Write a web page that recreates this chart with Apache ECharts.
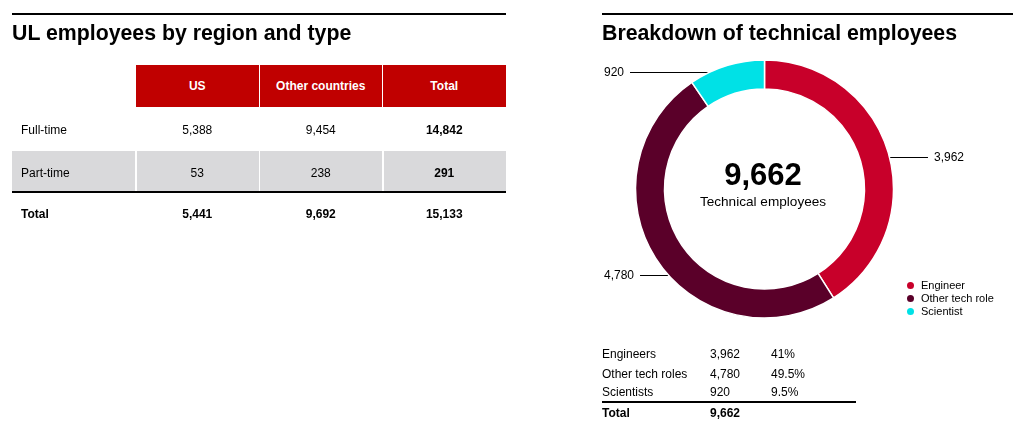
<!DOCTYPE html>
<html>
<head>
<meta charset="utf-8">
<script src="https://cdn.jsdelivr.net/npm/echarts@6/dist/echarts.min.js"></script>
<style>
  html, body { margin:0; padding:0; background:#fff; }
  body { width:1021px; height:424px; position:relative; overflow:hidden;
         font-family:'Liberation Sans', Arial, Helvetica, sans-serif; color:#000; }
  #chart { position:absolute; left:0; top:0; width:1021px; height:424px; }
  .abs { position:absolute; white-space:nowrap; }
  .rule { position:absolute; background:#000; }
  .title { position:absolute; font-size:21.3px; font-weight:bold; line-height:21px; white-space:nowrap; }
  .cell { position:absolute; font-size:12px; text-align:center; white-space:nowrap; }
  .lbl { position:absolute; font-size:12px; text-align:left; white-space:nowrap; }
  .b { font-weight:bold; }
</style>
</head>
<body>
<div id="chart"></div>
<div id="overlay"></div>
<script>
// ---------- data: left table ----------
const regionColumns = ['US', 'Other countries', 'Total'];
const typeRows = ['Full-time', 'Part-time'];
const usValues = [5388, 53];
const otherCountryValues = [9454, 238];
const rowTotals = [14842, 291];
const totalRowLabel = 'Total';
const columnTotals = [5441, 9692, 15133];

// ---------- data: technical employees ----------
const techCategories = ['Engineer', 'Other tech role', 'Scientist'];
const techValues = [3962, 4780, 920];
const techTableLabels = ['Engineers', 'Other tech roles', 'Scientists'];
const techShares = ['41%', '49.5%', '9.5%'];
const techTotal = 9662;
const techColors = ['#C8002A', '#5A0029', '#00E1E6'];

const leftTitle = 'UL employees by region and type';
const rightTitle = 'Breakdown of technical employees';
const centerCaption = 'Technical employees';

const fmt = v => v.toLocaleString('en-US');

// ---------- HTML tables ----------
const ov = document.getElementById('overlay');
function add(cls, css, text) {
  const d = document.createElement('div');
  d.className = cls;
  Object.assign(d.style, css);
  if (text !== undefined) d.textContent = text;
  ov.appendChild(d);
  return d;
}
// rules + titles
add('rule', {left:'12px', top:'13px', width:'494px', height:'2px'});
add('rule', {left:'602px', top:'13px', width:'411px', height:'2px'});
add('title', {left:'12px', top:'23px'}, leftTitle);
add('title', {left:'602px', top:'23px'}, rightTitle);

const colLeft = [136, 259.5, 383];
const colW = 122.5;
// header
regionColumns.forEach((c, i) => {
  add('cell b', {left:colLeft[i]+'px', top:'65px', width:colW+'px', height:'42px',
    lineHeight:'42px', background:'#C00000', color:'#fff'}, c);
});
// part-time grey band
add('abs', {left:'12px', top:'151px', width:'494px', height:'40px', background:'#D9D9DB'});
[135, 258.5, 382].forEach(x => add('abs', {left:x+'px', top:'151px', width:'1.5px', height:'40px', background:'#fff'}));
// rows
const rowTops = [108, 151];
typeRows.forEach((r, ri) => {
  const top = rowTops[ri];
  add('lbl', {left:'21px', top:top+'px', height:'44px', lineHeight:'44px'}, r);
  const vals = [usValues[ri], otherCountryValues[ri], rowTotals[ri]];
  vals.forEach((v, ci) => {
    add('cell' + (ci === 2 ? ' b' : ''), {left:colLeft[ci]+'px', top:top+'px', width:colW+'px',
      height:'44px', lineHeight:'44px'}, fmt(v));
  });
});
add('rule', {left:'12px', top:'191px', width:'494px', height:'2px'});
add('lbl b', {left:'21px', top:'194px', height:'40px', lineHeight:'40px'}, totalRowLabel);
columnTotals.forEach((v, ci) => {
  add('cell b', {left:colLeft[ci]+'px', top:'194px', width:colW+'px', height:'40px', lineHeight:'40px'}, fmt(v));
});

// right small table
const techRowCenters = [354, 374, 392];
techTableLabels.forEach((l, i) => {
  const top = techRowCenters[i] - 10;
  add('lbl', {left:'602px', top:top+'px', height:'20px', lineHeight:'20px'}, l);
  add('lbl', {left:'710px', top:top+'px', height:'20px', lineHeight:'20px'}, fmt(techValues[i]));
  add('lbl', {left:'771px', top:top+'px', height:'20px', lineHeight:'20px'}, techShares[i]);
});
add('rule', {left:'602px', top:'401px', width:'254px', height:'2px'});
add('lbl b', {left:'602px', top:'403px', height:'20px', lineHeight:'20px'}, totalRowLabel);
add('lbl b', {left:'710px', top:'403px', height:'20px', lineHeight:'20px'}, fmt(techTotal));

// ---------- donut ----------
const PIE_BOX = {left: 604, top: 0, width: 360, height: 424};
const PIE_CX = 764.5, PIE_CY = 189, R_IN = 100, R_OUT = 129;
const LABEL_NUDGE = [4, 15, 6];   // vertical shift of each leader, as in the source layout
const LINE_GAP = 6;

const chart = echarts.init(document.getElementById('chart'), null, {renderer:'canvas'});
const FONT = "'Liberation Sans', Arial, sans-serif";
chart.setOption({
  animation: false,
  color: techColors,
  legend: {
    orient: 'vertical', left: 905, top: 279, padding: 0,
    itemWidth: 11, itemHeight: 9, itemGap: 0, icon: 'circle',
    data: techCategories,
    textStyle: {fontSize: 11, lineHeight: 13, color: '#000', fontFamily: FONT}
  },
  graphic: [
    {type:'text', x:763, y:176, style:{text: fmt(techTotal), fontSize:31, fontWeight:'bold',
      fontFamily: FONT, fill:'#000', align:'center', verticalAlign:'middle'}},
    {type:'text', x:763, y:202, style:{text: centerCaption, fontSize:13.6,
      fontFamily: FONT, fill:'#000', align:'center', verticalAlign:'middle'}}
  ],
  series: [{
    type: 'pie',
    left: PIE_BOX.left, top: PIE_BOX.top, width: PIE_BOX.width, height: PIE_BOX.height,
    center: [((PIE_CX - PIE_BOX.left) / PIE_BOX.width * 100) + '%',
             ((PIE_CY - PIE_BOX.top) / PIE_BOX.height * 100) + '%'],
    radius: [R_IN, R_OUT],
    startAngle: 90,
    clockwise: true,
    avoidLabelOverlap: false,
    itemStyle: {borderColor:'#fff', borderWidth:1.5},
    label: {show:true, position:'outside', alignTo:'edge', edgeDistance:0,
      distanceToLabelLine: LINE_GAP,
      formatter: p => fmt(p.value), fontSize:12, color:'#000', fontFamily: FONT},
    labelLine: {show:true, length:0, length2:20, lineStyle:{color:'#000', width:1}},
    labelLayout: function (p) {
      const r = p.labelRect;
      const baseY = r.y + r.height / 2;
      const ly = Math.round(baseY + (LABEL_NUDGE[p.dataIndex] || 0)) + 0.5;
      const isLeft = (r.x + r.width / 2) < PIE_CX;
      const d = ly - PIE_CY;
      const dx = Math.sqrt(Math.max(0, R_OUT * R_OUT - d * d));
      const x0 = isLeft ? PIE_CX - dx : PIE_CX + dx;
      const xe = isLeft ? r.x + r.width + LINE_GAP : r.x - LINE_GAP;
      return {dy: ly - baseY, labelLinePoints: [[x0, ly], [x0, ly], [xe, ly]]};
    },
    emphasis: {disabled:true},
    data: techCategories.map((n, i) => ({name:n, value:techValues[i]}))
  }]
});
</script>
</body>
</html>
